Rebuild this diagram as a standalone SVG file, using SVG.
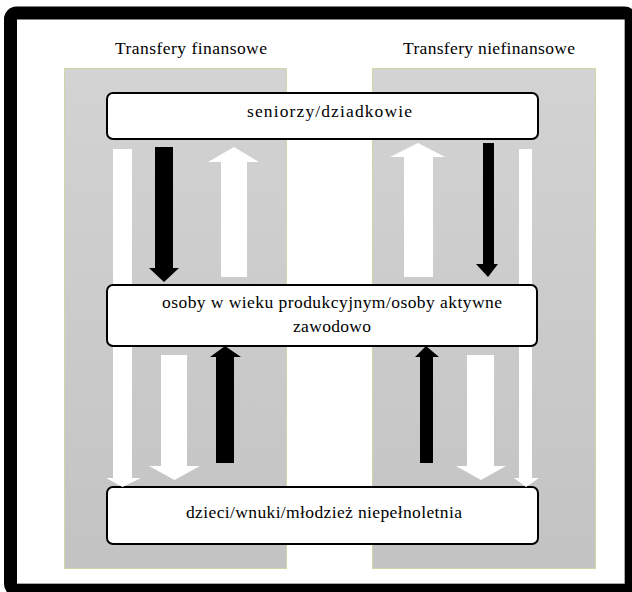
<svg xmlns="http://www.w3.org/2000/svg" width="632" height="592" viewBox="0 0 632 592">
  <style>
    text { font-family: 'Liberation Serif', 'Times New Roman', Times, serif; font-size: 17.5px; fill: #000; }
    .box { fill: #fff; stroke: #000; stroke-width: 2; }
    .panel { fill: url(#panelFill); stroke: #c9d9a6; stroke-width: 1; }
    .w { fill: #fff; }
    .b { fill: #000; }
  </style>
  <defs>
    <linearGradient id="panelFill" x1="0" y1="0" x2="0" y2="1">
      <stop offset="0" stop-color="#d3d3d3"/>
      <stop offset="1" stop-color="#c3c3c3"/>
    </linearGradient>
  </defs>

  <!-- page background and heavy frame -->
  <rect x="0" y="0" width="632" height="592" fill="#fff"/>
  <rect x="10.5" y="13" width="620" height="577" rx="6" fill="#fff" stroke="#000" stroke-width="13"/>
  <path d="M624.5 19.5 V583.5 H17" fill="none" stroke="#aaa" stroke-width="1"/>

  <!-- column titles -->
  <g id="title-financial">
    <text x="115" y="54" textLength="152" lengthAdjust="spacing">Transfery finansowe</text>
  </g>
  <g id="title-nonfinancial">
    <text x="403" y="54" textLength="172" lengthAdjust="spacing">Transfery niefinansowe</text>
  </g>

  <!-- grey column panels -->
  <g id="panel-financial">
    <rect class="panel" x="64.5" y="68.5" width="222" height="500"/>
  </g>
  <g id="panel-nonfinancial">
    <rect class="panel" x="372.5" y="68.5" width="223" height="500"/>
  </g>

  <!-- bottom generation -->
  <g id="node-children">
    <rect class="box" x="107" y="487" width="431" height="57" rx="6"/>
    <text x="186" y="518" textLength="276" lengthAdjust="spacing">dzieci/wnuki/młodzież niepełnoletnia</text>
  </g>

  <!-- transfer arrows -->
  <g id="connectors">
    <!-- financial column -->
    <polygon class="w" points="113,149 132,149 132,478 141,478 122.5,487 106,478 113,478"/>
    <polygon class="b" points="155,147 173,147 173,268 179,268 164,282 149,268 155,268"/>
    <polygon class="w" points="221,277 247,277 247,162 259,162 234,147 208,162 221,162"/>
    <polygon class="w" points="161,355 187,355 187,466 200,466 174.5,480 149,466 161,466"/>
    <polygon class="b" points="216,463 234,463 234,357 241,357 225,346 210,357 216,357"/>
    <!-- non-financial column -->
    <polygon class="w" points="404,277 433,277 433,157 445,157 418,143 390,157 404,157"/>
    <polygon class="b" points="483,143 494,143 494,264 498,264 488,277 476,264 483,264"/>
    <polygon class="w" points="519,149 532,149 532,478 539,478 526,487 514,478 519,478"/>
    <polygon class="b" points="420,463 433,463 433,357 439,357 426,346 415,357 420,357"/>
    <polygon class="w" points="467,355 494,355 494,466 506,466 481,480 456,466 467,466"/>
  </g>

  <!-- top generation -->
  <g id="node-seniors">
    <rect class="box" x="107" y="93" width="431" height="46" rx="6"/>
    <text x="247" y="117" textLength="165" lengthAdjust="spacing">seniorzy/dziadkowie</text>
  </g>

  <!-- middle generation -->
  <g id="node-working-age">
    <rect class="box" x="107" y="285" width="430" height="61" rx="6"/>
    <text x="162" y="308" textLength="340" lengthAdjust="spacing">osoby w wieku produkcyjnym/osoby aktywne</text>
    <text x="293" y="332" textLength="78" lengthAdjust="spacing">zawodowo</text>
  </g>
</svg>
